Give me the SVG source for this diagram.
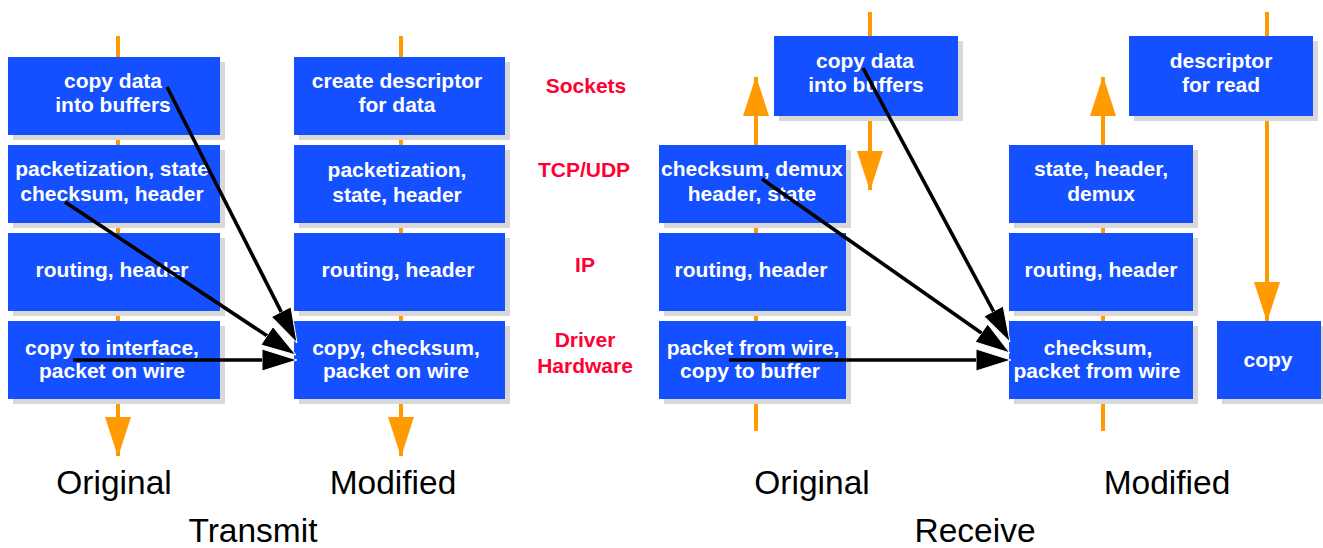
<svg xmlns="http://www.w3.org/2000/svg" width="1323" height="548" viewBox="0 0 1323 548">
<style>
.box{fill:#1450FF}
.sh{fill:#D8D8D8}
.bt{font-family:"Liberation Sans",Arial,sans-serif;font-weight:bold;font-size:21px;fill:#FFFFFF;text-anchor:middle}
.lay{font-family:"Liberation Sans",Arial,sans-serif;font-weight:bold;font-size:21px;fill:#FF0033;text-anchor:middle}
.cap{font-family:"Liberation Sans",Arial,sans-serif;font-size:33.5px;fill:#000000;text-anchor:middle}
.or{stroke:#FF9A00;stroke-width:4;fill:none}
.bk{stroke:#000000;stroke-width:3.6;fill:none}
</style>
<defs>
<marker id="oh" viewBox="0 0 40 26" refX="39" refY="13" markerWidth="40" markerHeight="26" markerUnits="userSpaceOnUse" orient="auto">
<path d="M0,0 L40,13 L0,26 Z" fill="#FF9A00"/>
</marker>
<marker id="bh" viewBox="0 0 35 22" refX="31" refY="11" markerWidth="35" markerHeight="22" markerUnits="userSpaceOnUse" orient="auto">
<path d="M0,0 L35,11 L0,22 Z" fill="#000000" stroke="#FFFFFF" stroke-width="1"/>
</marker>
</defs>
<g id="flows">
<line class="or" x1="118" y1="36" x2="118" y2="456" marker-end="url(#oh)"/>
<line class="or" x1="401" y1="36" x2="401" y2="456" marker-end="url(#oh)"/>
<line class="or" x1="756" y1="431" x2="756" y2="77" marker-end="url(#oh)"/>
<line class="or" x1="870" y1="12" x2="870" y2="190" marker-end="url(#oh)"/>
<line class="or" x1="1103" y1="431" x2="1103" y2="77" marker-end="url(#oh)"/>
<line class="or" x1="1267" y1="12" x2="1267" y2="321" marker-end="url(#oh)"/>
</g>
<g id="tx-orig">
<g id="t-o-sock"><rect class="sh" x="13" y="62" width="212" height="78"/><rect class="box" x="8" y="57" width="212" height="78"/><text class="bt" x="113" y="88">copy data</text><text class="bt" x="113" y="112">into buffers</text></g>
<g id="t-o-tcp"><rect class="sh" x="13" y="150" width="212" height="78"/><rect class="box" x="8" y="145" width="212" height="78"/><text class="bt" x="112" y="176">packetization, state</text><text class="bt" x="112" y="201">checksum, header</text></g>
<g id="t-o-ip"><rect class="sh" x="13" y="238" width="212" height="78"/><rect class="box" x="8" y="233" width="212" height="78"/><text class="bt" x="112" y="277">routing, header</text></g>
<g id="t-o-drv"><rect class="sh" x="13" y="326" width="212" height="78"/><rect class="box" x="8" y="321" width="212" height="78"/><text class="bt" x="112" y="355">copy to interface,</text><text class="bt" x="112" y="378">packet on wire</text></g>
</g>
<g id="tx-mod">
<g id="t-m-sock"><rect class="sh" x="299" y="62" width="211" height="78"/><rect class="box" x="294" y="57" width="211" height="78"/><text class="bt" x="397" y="88">create descriptor</text><text class="bt" x="397" y="112">for data</text></g>
<g id="t-m-tcp"><rect class="sh" x="299" y="150" width="211" height="78"/><rect class="box" x="294" y="145" width="211" height="78"/><text class="bt" x="397" y="177">packetization,</text><text class="bt" x="397" y="202">state, header</text></g>
<g id="t-m-ip"><rect class="sh" x="299" y="238" width="211" height="78"/><rect class="box" x="294" y="233" width="211" height="78"/><text class="bt" x="398" y="277">routing, header</text></g>
<g id="t-m-drv"><rect class="sh" x="299" y="326" width="211" height="78"/><rect class="box" x="294" y="321" width="211" height="78"/><text class="bt" x="396" y="355">copy, checksum,</text><text class="bt" x="396" y="378">packet on wire</text></g>
</g>
<g id="layers">
<text class="lay" x="586" y="93">Sockets</text>
<text class="lay" x="584" y="177">TCP/UDP</text>
<text class="lay" x="585" y="272">IP</text>
<text class="lay" x="585" y="347">Driver</text>
<text class="lay" x="585" y="373">Hardware</text>
</g>
<g id="rx-orig">
<g id="r-o-sock"><rect class="sh" x="779" y="41" width="184" height="80"/><rect class="box" x="774" y="36" width="184" height="80"/><text class="bt" x="865" y="68">copy data</text><text class="bt" x="866" y="92">into buffers</text></g>
<g id="r-o-tcp"><rect class="sh" x="664" y="150" width="187" height="78"/><rect class="box" x="659" y="145" width="187" height="78"/><text class="bt" x="752" y="176">checksum, demux</text><text class="bt" x="752" y="201">header, state</text></g>
<g id="r-o-ip"><rect class="sh" x="664" y="238" width="187" height="78"/><rect class="box" x="659" y="233" width="187" height="78"/><text class="bt" x="751" y="277">routing, header</text></g>
<g id="r-o-drv"><rect class="sh" x="664" y="326" width="187" height="78"/><rect class="box" x="659" y="321" width="187" height="78"/><text class="bt" x="753" y="355">packet from wire,</text><text class="bt" x="750" y="378">copy to buffer</text></g>
</g>
<g id="rx-mod">
<g id="r-m-sock"><rect class="sh" x="1134" y="41" width="184" height="80"/><rect class="box" x="1129" y="36" width="184" height="80"/><text class="bt" x="1221" y="68">descriptor</text><text class="bt" x="1221" y="92">for read</text></g>
<g id="r-m-tcp"><rect class="sh" x="1014" y="150" width="184" height="78"/><rect class="box" x="1009" y="145" width="184" height="78"/><text class="bt" x="1101" y="176">state, header,</text><text class="bt" x="1101" y="201">demux</text></g>
<g id="r-m-ip"><rect class="sh" x="1014" y="238" width="184" height="78"/><rect class="box" x="1009" y="233" width="184" height="78"/><text class="bt" x="1101" y="277">routing, header</text></g>
<g id="r-m-drv"><rect class="sh" x="1014" y="326" width="184" height="78"/><rect class="box" x="1009" y="321" width="184" height="78"/><text class="bt" x="1098" y="355">checksum,</text><text class="bt" x="1097" y="378">packet from wire</text></g>
<g id="r-m-copy"><rect class="sh" x="1222" y="326" width="104" height="78"/><rect class="box" x="1217" y="321" width="104" height="78"/><text class="bt" x="1268" y="367">copy</text></g>
</g>
<g id="connectors">
<line class="bk" x1="167" y1="87" x2="295.2" y2="339.4" marker-end="url(#bh)"/>
<line class="bk" x1="65" y1="202" x2="292.7" y2="352.8" marker-end="url(#bh)"/>
<line class="bk" x1="73" y1="360" x2="293" y2="360" marker-end="url(#bh)"/>
<line class="bk" x1="863" y1="68" x2="1008.1" y2="338.5" marker-end="url(#bh)"/>
<line class="bk" x1="762" y1="179" x2="1006.7" y2="350.7" marker-end="url(#bh)"/>
<line class="bk" x1="729" y1="360" x2="1007" y2="360" marker-end="url(#bh)"/>
</g>
<g id="captions">
<text class="cap" x="114" y="494">Original</text>
<text class="cap" x="393" y="494">Modified</text>
<text class="cap" x="253" y="542">Transmit</text>
<text class="cap" x="812" y="494">Original</text>
<text class="cap" x="1167" y="494">Modified</text>
<text class="cap" x="975" y="542">Receive</text>
</g>
</svg>
